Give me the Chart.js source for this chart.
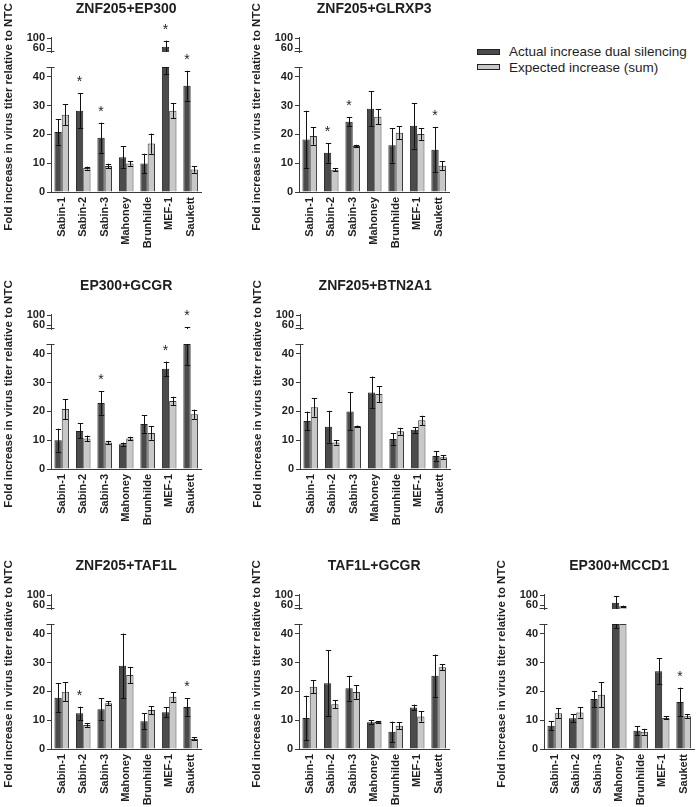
<!DOCTYPE html>
<html>
<head>
<meta charset="utf-8">
<script src="https://cdn.jsdelivr.net/npm/chart.js@4.4.1/dist/chart.umd.min.js"></script>
<style>
  body { margin: 0; width: 700px; height: 807px; overflow: hidden; background: #fff; position: relative;
         font-family: "Liberation Sans", Arial, sans-serif; }
  canvas { position: absolute; }
  .legbox { position: absolute; width: 21px; height: 4px; border: 1px solid #222; }
  .legtxt { position: absolute; font-size: 13.5px; color: #1e1e1e; line-height: 16px; white-space: nowrap; }
</style>
</head>
<body>
<div class="legbox" style="left:477px;top:49px;background:#4b4b4b"></div>
<div class="legtxt" style="left:509px;top:44px">Actual increase dual silencing</div>
<div class="legbox" style="left:477px;top:64px;background:#c8c8c8"></div>
<div class="legtxt" style="left:509px;top:60px">Expected increase (sum)</div>

<script>
// categories, axis ticks, titles
var strains = ['Sabin-1', 'Sabin-2', 'Sabin-3', 'Mahoney', 'Brunhilde', 'MEF-1', 'Saukett'];
var seriesNames = ['Actual increase dual silencing', 'Expected increase (sum)'];
var lowTicks = [0, 10, 20, 30, 40];
var highTicks = [60, 100];
var yTitle = 'Fold increase in virus titer relative to NTC';

// values (mean, error, significance)
var znf205Ep300Actual = [20.8, 28.2, 18.8, 12.1, 9.9, 66, 36.9];
var znf205Ep300ActualErr = [4.4, 6.0, 5.3, 3.7, 3.4, 25, 5.2];
var znf205Ep300Expected = [26.8, 8.3, 9.0, 9.9, 16.8, 28.2, 7.8];
var znf205Ep300ExpectedErr = [3.7, 0.5, 0.8, 0.8, 3.5, 2.6, 1.1];
var znf205Ep300Stars = [0, 1, 1, 0, 0, 1, 1];

var znf205Glrxp3Actual = [18.2, 13.6, 24.4, 28.9, 16.2, 23.0, 14.7];
var znf205Glrxp3ActualErr = [10, 3.4, 1.6, 6.0, 6.0, 7.9, 7.9];
var znf205Glrxp3Expected = [19.4, 7.7, 16.0, 26.1, 20.6, 20.1, 9.1];
var znf205Glrxp3ExpectedErr = [3.0, 0.5, 0.4, 2.6, 2.2, 2.0, 1.6];
var znf205Glrxp3Stars = [0, 1, 1, 0, 0, 0, 1];

var ep300GcgrActual = [10.0, 13.2, 22.9, 8.6, 15.6, 34.8, 43.8];
var ep300GcgrActualErr = [4.0, 2.6, 4.1, 0.6, 3.0, 2.5, 7.8];
var ep300GcgrExpected = [20.8, 10.6, 9.2, 10.6, 12.5, 23.6, 19.0];
var ep300GcgrExpectedErr = [3.5, 1.0, 0.6, 0.6, 2.3, 1.5, 1.6];
var ep300GcgrStars = [0, 0, 1, 0, 0, 1, 1];

var znf205Btn2a1Actual = [16.7, 14.7, 20.0, 26.6, 10.4, 13.6, 4.5];
var znf205Btn2a1ActualErr = [3.2, 5.5, 6.6, 5.5, 2.0, 1.0, 1.6];
var znf205Btn2a1Expected = [21.4, 9.2, 14.8, 26.0, 13.1, 16.9, 4.1];
var znf205Btn2a1ExpectedErr = [3.2, 0.7, 0.3, 2.7, 1.2, 1.6, 0.7];
var znf205Btn2a1Stars = [0, 0, 0, 0, 0, 0, 0];

var znf205Taf1lActual = [17.8, 12.4, 13.8, 28.9, 9.6, 12.8, 14.6];
var znf205Taf1lActualErr = [5.0, 2.3, 3.8, 11.2, 2.8, 1.8, 3.0];
var znf205Taf1lExpected = [19.9, 8.3, 15.9, 25.7, 13.5, 18.1, 3.5];
var znf205Taf1lExpectedErr = [3.2, 0.6, 0.6, 2.8, 1.4, 1.7, 0.5];
var znf205Taf1lStars = [0, 1, 0, 0, 0, 0, 1];

var taf1lGcgrActual = [10.8, 22.8, 21.1, 9.3, 6.0, 14.4, 25.4];
var taf1lGcgrActualErr = [7.7, 11.4, 4.3, 0.7, 3.5, 1.0, 7.4];
var taf1lGcgrExpected = [21.6, 15.5, 19.8, 9.4, 8.1, 11.3, 28.4];
var taf1lGcgrExpectedErr = [2.3, 1.4, 2.4, 0.3, 1.2, 1.8, 1.1];
var taf1lGcgrStars = [0, 0, 0, 0, 0, 0, 0];

var ep300Mccd1Actual = [8.1, 10.7, 17.4, 70, 6.3, 27.0, 16.3];
var ep300Mccd1ActualErr = [1.5, 1.4, 2.8, 28, 1.6, 4.5, 5.0];
var ep300Mccd1Expected = [12.4, 12.7, 18.8, 55, 6.0, 10.8, 11.4];
var ep300Mccd1ExpectedErr = [1.8, 1.8, 4.3, 3.0, 1.0, 0.5, 0.6];
var ep300Mccd1Stars = [0, 0, 0, 0, 0, 0, 1];

var panels = [
  {title: 'ZNF205+EP300', a: znf205Ep300Actual, ae: znf205Ep300ActualErr, e: znf205Ep300Expected, ee: znf205Ep300ExpectedErr, s: znf205Ep300Stars},
  {title: 'ZNF205+GLRXP3', a: znf205Glrxp3Actual, ae: znf205Glrxp3ActualErr, e: znf205Glrxp3Expected, ee: znf205Glrxp3ExpectedErr, s: znf205Glrxp3Stars},
  {title: 'EP300+GCGR', a: ep300GcgrActual, ae: ep300GcgrActualErr, e: ep300GcgrExpected, ee: ep300GcgrExpectedErr, s: ep300GcgrStars},
  {title: 'ZNF205+BTN2A1', a: znf205Btn2a1Actual, ae: znf205Btn2a1ActualErr, e: znf205Btn2a1Expected, ee: znf205Btn2a1ExpectedErr, s: znf205Btn2a1Stars},
  {title: 'ZNF205+TAF1L', a: znf205Taf1lActual, ae: znf205Taf1lActualErr, e: znf205Taf1lExpected, ee: znf205Taf1lExpectedErr, s: znf205Taf1lStars},
  {title: 'TAF1L+GCGR', a: taf1lGcgrActual, ae: taf1lGcgrActualErr, e: taf1lGcgrExpected, ee: taf1lGcgrExpectedErr, s: taf1lGcgrStars},
  {title: 'EP300+MCCD1', a: ep300Mccd1Actual, ae: ep300Mccd1ActualErr, e: ep300Mccd1Expected, ee: ep300Mccd1ExpectedErr, s: ep300Mccd1Stars}
];

// where each panel canvas sits on the page
var panelPos = [[0, 0], [248, 0], [0, 277], [249, 277], [0, 557], [248, 557], [493, 557]];

var LOW_MAX = 43.4, HIGH_MIN = 44, HIGH_MAX = 106;
var FONT = '"Liberation Sans", Arial, sans-serif';
var TXT = '#1e1e1e', AXIS = '#3a3a3a';
var DARK = '#4b4b4b', DARK_EDGE = '#1e1e1e', LIGHT = '#c8c8c8', LIGHT_EDGE = '#3a3a3a';

function lowPart(v) { return v.map(function(x) { return Math.min(x, LOW_MAX); }); }
function highPart(v) { return v.map(function(x) { return x > HIGH_MIN ? x : null; }); }

function decor(p) {
  return {
    id: 'decor',
    afterDatasetsDraw: function(chart) {
      var ctx = chart.ctx, lo = chart.scales.yLow, hi = chart.scales.yHigh;
      var segs = [[lo, 0, LOW_MAX], [hi, HIGH_MIN, HIGH_MAX]];
      var series = [[p.a, p.ae], [p.e, p.ee]];
      ctx.save();
      ctx.strokeStyle = '#111';
      ctx.lineWidth = 1;
      series.forEach(function(sr, si) {
        var meta = chart.getDatasetMeta(si);
        sr[0].forEach(function(v, i) {
          var x = Math.round(meta.data[i].x) + 0.5;
          var a = v - sr[1][i], b = v + sr[1][i];
          ctx.beginPath();
          segs.forEach(function(sg) {
            var s0 = Math.max(a, sg[1]), s1 = Math.min(b, sg[2]);
            if (s0 < s1) {
              ctx.moveTo(x, sg[0].getPixelForValue(s0));
              ctx.lineTo(x, sg[0].getPixelForValue(s1));
            }
            [a, b].forEach(function(t) {
              if (t >= sg[1] && t <= sg[2]) {
                var y = Math.round(sg[0].getPixelForValue(t)) + 0.5;
                ctx.moveTo(x - 2.7, y);
                ctx.lineTo(x + 2.7, y);
              }
            });
          });
          ctx.stroke();
        });
      });
      // significance stars over the actual bars
      ctx.fillStyle = TXT;
      ctx.font = '14px ' + FONT;
      ctx.textAlign = 'center';
      ctx.textBaseline = 'alphabetic';
      var meta0 = chart.getDatasetMeta(0);
      p.s.forEach(function(flag, i) {
        if (!flag) return;
        var top = p.a[i] + p.ae[i];
        var py = top <= LOW_MAX ? lo.getPixelForValue(top) :
                 (top >= HIGH_MIN ? hi.getPixelForValue(top) : lo.top);
        ctx.fillText('*', meta0.data[i].x, py - 7);
      });
      ctx.restore();
    },
    afterDraw: function(chart) {
      var ctx = chart.ctx, ca = chart.chartArea;
      var lo = chart.scales.yLow, hi = chart.scales.yHigh;
      ctx.save();
      // break caps on the y axis
      ctx.strokeStyle = AXIS;
      ctx.lineWidth = 1;
      ctx.beginPath();
      var xa = Math.round(ca.left) - 0.5;
      ctx.moveTo(xa - 4, Math.round(hi.bottom) - 0.5);
      ctx.lineTo(xa + 4, Math.round(hi.bottom) - 0.5);
      ctx.moveTo(xa - 4, Math.round(lo.top) + 0.5);
      ctx.lineTo(xa + 4, Math.round(lo.top) + 0.5);
      ctx.stroke();
      // panel title
      ctx.fillStyle = TXT;
      ctx.textAlign = 'center';
      ctx.textBaseline = 'middle';
      ctx.font = 'bold 14px ' + FONT;
      ctx.fillText(p.title, (ca.left + ca.right) / 2, 9);
      // y axis title
      ctx.translate(9, 117);
      ctx.rotate(-Math.PI / 2);
      ctx.font = 'bold 11.5px ' + FONT;
      ctx.fillText(yTitle, 0, 0);
      ctx.restore();
    }
  };
}

function tickFont() { return {family: FONT, size: 11, weight: 'bold'}; }

function makePanel(p, pos) {
  var cv = document.createElement('canvas');
  cv.width = 209; cv.height = 250;
  cv.style.left = pos[0] + 'px';
  cv.style.top = pos[1] + 'px';
  document.body.appendChild(cv);

  function bars(label, data, axis, stack, fill, edge) {
    return {label: label, data: data, yAxisID: axis, stack: stack,
            backgroundColor: fill, borderColor: edge, borderWidth: 1,
            categoryPercentage: 0.68, barPercentage: 1};
  }

  new Chart(cv, {
    type: 'bar',
    data: {
      labels: strains,
      datasets: [
        bars(seriesNames[0], lowPart(p.a), 'yLow', 'a', DARK, DARK_EDGE),
        bars(seriesNames[1], lowPart(p.e), 'yLow', 'e', LIGHT, LIGHT_EDGE),
        bars(seriesNames[0], highPart(p.a), 'yHigh', 'a', DARK, DARK_EDGE),
        bars(seriesNames[1], highPart(p.e), 'yHigh', 'e', LIGHT, LIGHT_EDGE)
      ]
    },
    options: {
      responsive: false,
      animation: false,
      layout: {padding: {left: 20, right: 2, top: 37, bottom: 0}},
      plugins: {legend: {display: false}, tooltip: {enabled: false}},
      scales: {
        x: {
          grid: {display: true, drawOnChartArea: false, drawTicks: false},
          border: {color: AXIS, width: 1},
          ticks: {autoSkip: false, minRotation: 90, maxRotation: 90, padding: 5, color: TXT, font: tickFont()},
          afterFit: function(s) { s.height = 58; }
        },
        yLow: {
          type: 'linear', position: 'left', stack: 'v', stackWeight: 125,
          min: 0, max: LOW_MAX,
          afterBuildTicks: function(s) { s.ticks = lowTicks.map(function(v) { return {value: v}; }); },
          ticks: {autoSkip: false, padding: 2, color: TXT, font: tickFont()},
          grid: {drawOnChartArea: false, drawTicks: true, tickLength: 4, color: AXIS},
          border: {color: AXIS, width: 1},
          afterFit: function(s) { s.width = 31; }
        },
        yGap: {
          type: 'linear', position: 'left', stack: 'v', stackWeight: 15,
          min: 0, max: 1, display: true,
          ticks: {display: false}, grid: {display: false}, border: {display: false},
          afterFit: function(s) { s.width = 31; }
        },
        yHigh: {
          type: 'linear', position: 'left', stack: 'v', stackWeight: 15,
          min: HIGH_MIN, max: HIGH_MAX,
          afterBuildTicks: function(s) { s.ticks = highTicks.map(function(v) { return {value: v}; }); },
          ticks: {autoSkip: false, padding: 2, color: TXT, font: tickFont()},
          grid: {drawOnChartArea: false, drawTicks: true, tickLength: 4, color: AXIS},
          border: {color: AXIS, width: 1},
          afterFit: function(s) { s.width = 31; }
        }
      }
    },
    plugins: [decor(p)]
  });
}

panels.forEach(function(p, i) { makePanel(p, panelPos[i]); });
</script>
</body>
</html>
